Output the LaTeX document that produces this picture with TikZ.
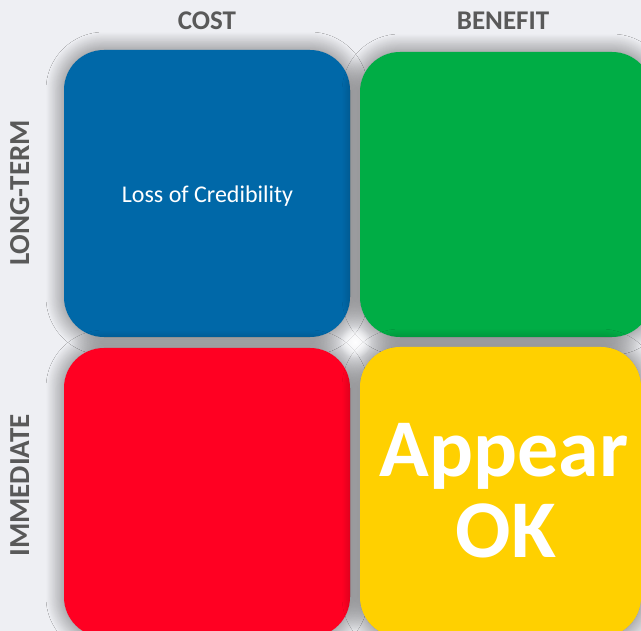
\documentclass[tikz,border=0pt]{standalone}
\usepackage{fontspec}
\setmainfont{Carlito}
\usetikzlibrary{shadows.blur,fadings}
\tikzfading[name=glowfade, inner color=transparent!0, outer color=transparent!100]
\definecolor{bgc}{HTML}{EEEFF3}
\definecolor{lblc}{HTML}{595959}
\definecolor{qblue}{HTML}{0068A8}
\definecolor{qgreen}{HTML}{00AD45}
\definecolor{qred}{HTML}{FF0022}
\definecolor{qyellow}{HTML}{FFD000}
\begin{document}
\begin{tikzpicture}[x=1pt,y=-1pt,
  quad/.style={rounded corners=40pt, blur shadow={shadow xshift=0pt, shadow yshift=0pt, shadow blur radius=18pt, shadow blur steps=20, shadow opacity=55}},
  hdr/.style={font=\bfseries\fontsize{27}{30}\selectfont, text=lblc, anchor=base, inner sep=0pt},
  vlbl/.style={font=\bfseries\fontsize{29}{32}\selectfont, text=lblc, anchor=base, inner sep=0pt, rotate=90},
  inner/.style={text=white, anchor=base, inner sep=0pt}]
\useasboundingbox (0,0) rectangle (641,631);
\clip (0,0) rectangle (641,631);
\fill[bgc] (0,0) rectangle (641,631);
\path[quad, fill=qblue]   (64,50)  rectangle (350,337);
\path[quad, fill=qgreen]  (360,52) rectangle (652,337);
\path[quad, fill=qred]    (64,348) rectangle (350,637);
\path[quad, fill=qyellow] (360,347) rectangle (641,637);
\fill[white, path fading=glowfade] (355,342) circle (16pt);
\node[hdr] (cost) at (207,30) {COST};
\node[hdr] (benefit) at (503,30) {BENEFIT};
\node[vlbl] (longterm) at (29,193) {LONG-TERM};
\node[vlbl] (immediate) at (29,485.5) {IMMEDIATE};
\node[inner, font=\fontsize{24}{28}\selectfont] (loss) at (207.5,203) {Loss of Credibility};
\node[inner, font=\bfseries\fontsize{82}{82}\selectfont] (appear) at (504,477) {Appear};
\node[inner, font=\bfseries\fontsize{82}{82}\selectfont] (ok) at (506,558) {OK};
\end{tikzpicture}
\end{document}
